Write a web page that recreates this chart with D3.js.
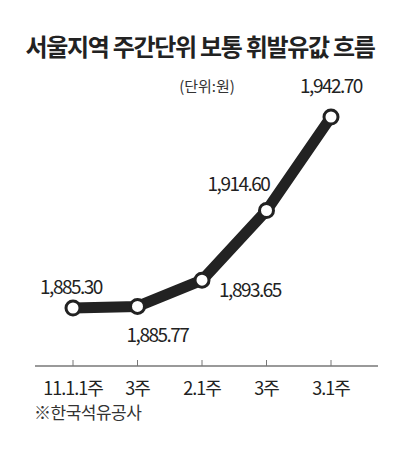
<!DOCTYPE html>
<html><head><meta charset="utf-8">
<script src="https://cdn.jsdelivr.net/npm/d3@7"></script>
<style>body{margin:0;background:#fff}text{font-family:"Noto Sans CJK KR",sans-serif}</style>
</head><body><svg id="c" width="400" height="451"></svg>
<script>
var categories = ["11.1.1주", "3주", "2.1주", "3주", "3.1주"];
var values = [1885.30, 1885.77, 1893.65, 1914.60, 1942.70];
var labels = ["1,885.30", "1,885.77", "1,893.65", "1,914.60", "1,942.70"];

var svg = d3.select("#c");
var x = d3.scalePoint().domain(d3.range(categories.length)).range([73, 331]);
var y = d3.scaleLinear().domain([1885.3, 1942.7]).range([308, 117]);

svg.append("text").attr("x", 200).attr("y", 56).attr("text-anchor", "middle")
   .attr("font-size", 24).attr("font-weight", "bold").attr("fill", "#222")
   .attr("letter-spacing", -1.3)
   .text("서울지역 주간단위 보통 휘발유값 흐름");
svg.append("text").attr("x", 207).attr("y", 92).attr("text-anchor", "middle")
   .attr("font-size", 15).attr("fill", "#333").text("(단위:원)");

svg.append("line").attr("x1", 35).attr("x2", 378).attr("y1", 366).attr("y2", 366)
   .attr("stroke", "#777").attr("stroke-width", 1.5);
svg.selectAll("line.t").data(categories).enter().append("line")
   .attr("x1", function(d, i) { return x(i); }).attr("x2", function(d, i) { return x(i); })
   .attr("y1", 360).attr("y2", 366).attr("stroke", "#777").attr("stroke-width", 1);

svg.append("path").datum(values)
   .attr("d", d3.line().x(function(d, i) { return x(i); }).y(function(d) { return y(d); }))
   .attr("fill", "none").attr("stroke", "#222").attr("stroke-width", 11)
   .attr("stroke-linejoin", "round");

svg.selectAll("circle.p").data(values).enter().append("circle")
   .attr("cx", function(d, i) { return x(i); }).attr("cy", function(d) { return y(d); })
   .attr("r", 7).attr("fill", "#fff").attr("stroke", "#222").attr("stroke-width", 3);

var off = [[-2, -14], [20, 36], [48, 17], [-28, -20], [0, -24]];
svg.selectAll("text.v").data(values).enter().append("text")
   .attr("x", function(d, i) { return x(i) + off[i][0]; })
   .attr("y", function(d, i) { return y(d) + off[i][1]; })
   .attr("text-anchor", "middle").attr("font-size", 19).attr("fill", "#222")
   .attr("letter-spacing", -1.5)
   .text(function(d, i) { return labels[i]; });

svg.selectAll("text.c").data(categories).enter().append("text")
   .attr("x", function(d, i) { return x(i); }).attr("y", 395)
   .attr("text-anchor", "middle").attr("font-size", 18).attr("fill", "#222")
   .attr("letter-spacing", -1)
   .text(function(d) { return d; });

svg.append("text").attr("x", 34).attr("y", 419).attr("font-size", 17).attr("fill", "#333")
   .attr("letter-spacing", -0.5)
   .text("※한국석유공사");
</script></body></html>
